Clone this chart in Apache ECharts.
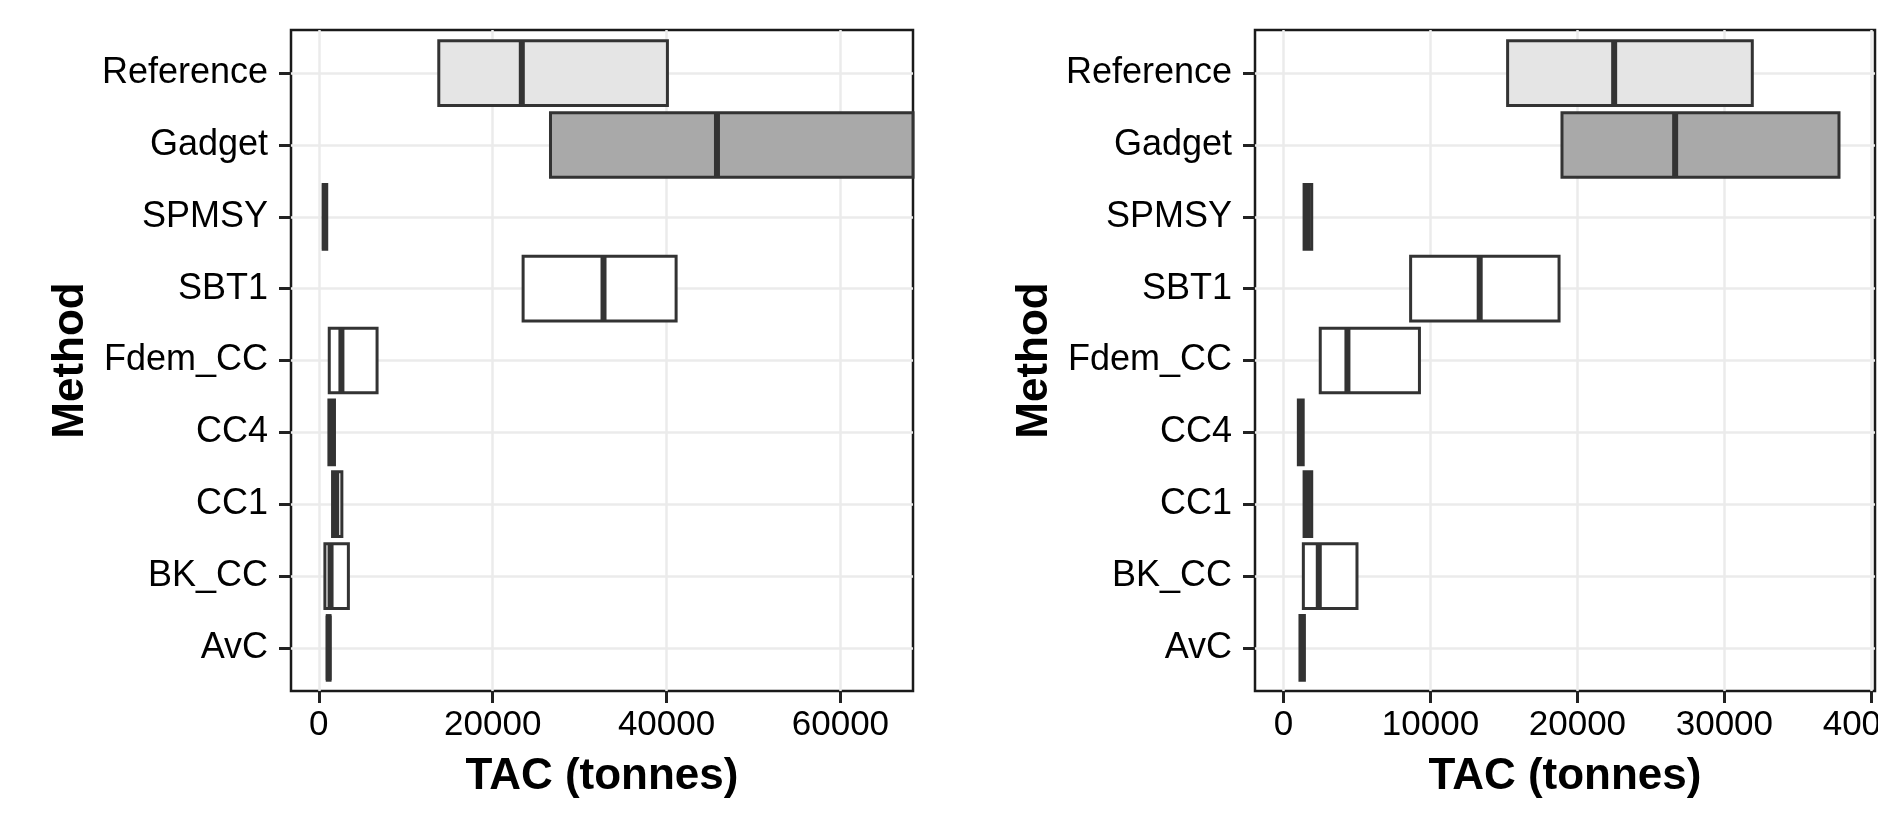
<!DOCTYPE html>
<html>
<head>
<meta charset="utf-8">
<script src="https://cdn.jsdelivr.net/npm/echarts@6/dist/echarts.min.js"></script>
<style>
  html, body { margin: 0; padding: 0; background: #fff; }
  #chart { width: 1878px; height: 837px; }
</style>
</head>
<body>
<div id="chart"></div>
<script>
// methods, top to bottom
const methods = ['Reference', 'Gadget', 'SPMSY', 'SBT1', 'Fdem_CC', 'CC4', 'CC1', 'BK_CC', 'AvC'];

// left panel: lower quartile, median, upper quartile (tonnes)
const leftQ1  = [13800, 26650, 500, 23500, 1200, 1160, 1580,  700,  970];
const leftMed = [23350, 45800, 700, 32750, 2600, 1480, 2000, 1350, 1130];
const leftQ3  = [40100, 74000, 910, 41100, 6700, 1800, 2650, 3400, 1290];

// right panel
const rightQ1  = [15250, 18950, 1400,  8650, 2500, 1010, 1400, 1350, 1120];
const rightMed = [22500, 26650, 1650, 13350, 4350, 1175, 1660, 2400, 1270];
const rightQ3  = [31900, 37800, 1920, 18750, 9250, 1340, 1920, 5000, 1420];

const leftTicks = [0, 20000, 40000, 60000];
const rightTicks = [0, 10000, 20000, 30000, 40000];

const fills = { Reference: '#e5e5e5', Gadget: '#a9a9a9' };
const FONT = '"Liberation Sans", Arial, Helvetica, sans-serif';

function rows(q1, med, q3) {
    return methods.map(function (m, i) { return [i, q1[i], med[i], q3[i]]; });
}

function renderBox(params, api) {
    const i = api.value(0);
    const a = api.coord([api.value(1), i - 0.45]);
    const b = api.coord([api.value(3), i + 0.45]);
    const m = api.coord([api.value(2), i]);
    const cs = params.coordSys;
    const rect = echarts.graphic.clipRectByRect({
        x: a[0], y: a[1], width: b[0] - a[0], height: b[1] - a[1]
    }, { x: cs.x, y: cs.y, width: cs.width, height: cs.height });
    return {
        type: 'group',
        children: [{
            type: 'rect',
            shape: rect,
            style: { fill: fills[methods[i]] || '#ffffff', stroke: '#333333', lineWidth: 3 }
        }, {
            type: 'line',
            shape: { x1: m[0], y1: a[1], x2: m[0], y2: b[1] },
            style: { stroke: '#333333', lineWidth: 6 }
        }]
    };
}

function xAxisOf(gridIndex, min, max, ticks) {
    return {
        type: 'value', gridIndex: gridIndex, min: min, max: max,
        name: 'TAC (tonnes)', nameLocation: 'middle', nameGap: 64,
        nameTextStyle: { fontFamily: FONT, fontSize: 44, fontWeight: 'bold', color: '#000' },
        axisLine: { show: false, onZero: false },
        axisTick: { show: true, length: 12, customValues: ticks, lineStyle: { color: '#222', width: 3 } },
        axisLabel: {
            customValues: ticks, margin: 17, fontFamily: FONT, fontSize: 35, color: '#000',
            formatter: function (v) { return String(v); }
        },
        splitLine: { show: true, lineStyle: { color: '#ebebeb', width: 2.5 } }
    };
}

function yAxisOf(gridIndex) {
    const idx = methods.map(function (m, i) { return i; });
    return {
        type: 'value', gridIndex: gridIndex, min: -0.6, max: 8.6, inverse: true,
        name: 'Method', nameLocation: 'middle', nameGap: 198, nameRotate: 90,
        nameTextStyle: { fontFamily: FONT, fontSize: 44, fontWeight: 'bold', color: '#000' },
        axisLine: { show: false, onZero: false },
        axisTick: { show: true, length: 12, customValues: idx, lineStyle: { color: '#222', width: 3 } },
        axisLabel: {
            customValues: idx, margin: 23, fontFamily: FONT, fontSize: 36, color: '#000',
            formatter: function (v) { return methods[Math.round(v)]; }
        },
        splitLine: { show: true, lineStyle: { color: '#ebebeb', width: 2.5 } }
    };
}

const chart = echarts.init(document.getElementById('chart'));
chart.setOption({
    backgroundColor: '#ffffff',
    animation: false,
    grid: [
        { left: 291, top: 30, width: 622, height: 661, outerBoundsMode: 'none', containLabel: false,
          show: true, borderColor: '#1a1a1a', borderWidth: 2.5 },
        { left: 1255, top: 30, width: 620, height: 661, outerBoundsMode: 'none', containLabel: false,
          show: true, borderColor: '#1a1a1a', borderWidth: 2.5 }
    ],
    xAxis: [xAxisOf(0, -3200, 68350, leftTicks), xAxisOf(1, -1940, 40250, rightTicks)],
    yAxis: [yAxisOf(0), yAxisOf(1)],
    series: [
        { type: 'custom', xAxisIndex: 0, yAxisIndex: 0, renderItem: renderBox, data: rows(leftQ1, leftMed, leftQ3) },
        { type: 'custom', xAxisIndex: 1, yAxisIndex: 1, renderItem: renderBox, data: rows(rightQ1, rightMed, rightQ3) }
    ]
});
</script>
</body>
</html>
